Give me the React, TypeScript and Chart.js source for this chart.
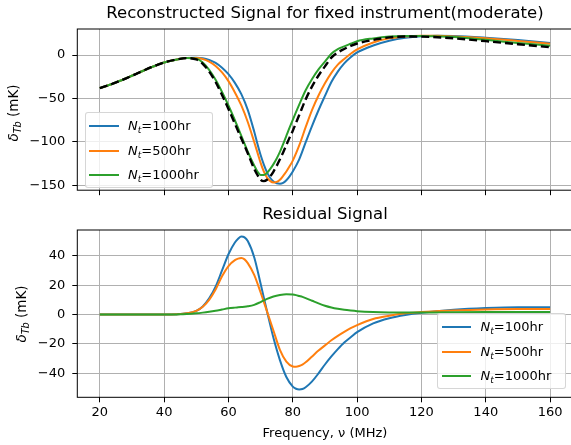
import React, { useEffect, useRef } from "react";
import { Chart, registerables } from "chart.js";

Chart.register(...registerables);

const FONT_FAMILY = "'DejaVu Sans', 'Liberation Sans', sans-serif";

const BLUE = "#1f77b4";
const ORANGE = "#ff7f0e";
const GREEN = "#2ca02c";

// Integration times shown in the legends
const SERIES_HOURS = ["100hr", "500hr", "1000hr"];
const SERIES_COLORS = [BLUE, ORANGE, GREEN];

// Frequency grid (MHz) of the reconstructed signals
const SIGNAL_FREQ = [
  20, 24, 28, 32, 36, 40, 44, 47, 50, 52, 54, 56, 58, 60, 62, 64, 66, 68, 69, 70,
  71, 72, 73, 74, 75, 76, 77, 78, 79, 80, 82, 84, 86, 88, 90, 92, 94, 96, 98, 100,
  105, 110, 115, 120, 125, 130, 140, 150, 160,
];

// Input (true) 21-cm signal, mK
const TRUE_SIGNAL = [
  -38, -33, -27, -20.5, -14, -8.5, -5, -3.5, -5, -10, -19, -31, -46, -62, -79, -96, -113, -131, -138, -143.5,
  -145, -143.5, -139.5, -134, -127.5, -120, -112, -103.5, -95, -87, -69, -51, -36, -23.5, -13, -3, 3, 7, 10.5, 13.3,
  17.5, 20.3, 21.3, 21.2, 20.5, 19.3, 16, 12.5, 9,
];

// Reconstructions, mK
const RECON_100 = [
  -38, -33, -27, -20.5, -14, -8.5, -5, -3.3, -3.2, -3.6, -5.5, -9, -14.5, -22, -32, -45, -63, -88, -102, -115,
  -126, -135, -141.5, -145.5, -147.5, -148, -147, -144, -139.5, -134, -120, -100.5, -81.5, -63.5, -47, -31, -19, -9.5, -2.5, 3,
  11, 16.5, 20, 21.7, 22.2, 22, 20, 17.3, 14,
];

const RECON_500 = [
  -38, -33, -27, -20.5, -14, -8.5, -5, -3.3, -3.3, -4.5, -7.5, -12.5, -20, -30, -43, -58, -77, -100, -112, -124,
  -134, -141, -145, -146.5, -146, -143.5, -139, -134, -128, -121.5, -104, -83, -63, -46.5, -32.5, -20.5, -11, -4.5, 1.5, 6.5,
  14.5, 19.3, 21.5, 22.3, 22.2, 21.5, 19.3, 16.3, 13,
];

const RECON_1000 = [
  -38, -33, -27, -20.5, -14, -8.5, -5, -3.5, -4.2, -8.5, -17, -28.5, -42.5, -58, -75, -93, -111, -127, -134, -138,
  -138, -135.5, -131, -125.5, -119, -111.5, -102.5, -93, -83.5, -74.5, -57, -40.5, -27.5, -16.5, -7.5, 1.5, 6.8, 10, 13, 16,
  19.2, 21.3, 22, 22, 21.5, 20.8, 17.5, 14, 10.7,
];

// Frequency grid (MHz) of the residuals
const RESID_FREQ = [
  20, 30, 40, 44, 47, 50, 52, 54, 56, 58, 60, 62, 63, 64, 65, 66, 68, 70, 72, 74, 76, 78,
  80, 81, 82, 83, 84, 86, 88, 90, 92, 94, 96, 98, 100, 105, 110, 115, 120, 130, 140, 150, 160,
];

// Residual signal, mK
const RESID_100 = [
  0, 0, 0, 0.2, 0.8, 2.5, 5.5, 11, 19, 30, 41, 49, 51.5, 53, 52.5, 50, 39, 21, 2, -16, -31, -42.5,
  -49, -50.5, -51, -50.7, -49.5, -45.5, -40, -34, -28.5, -23.5, -19, -15.5, -12, -6, -2.5, -0.3, 1.2, 3.2, 4.4, 5, 5,
];

const RESID_500 = [
  0, 0, 0, 0.2, 0.8, 2.5, 5.3, 10, 17, 26, 33, 37, 38, 38.4, 37.5, 35, 27, 15, 2, -11, -24, -32,
  -35.3, -35.5, -35, -34, -32.5, -28.5, -24.5, -21, -17.5, -14.5, -11.8, -9.3, -7.2, -3, -0.8, 0.8, 1.8, 2.8, 3.5, 3.8, 3.8,
];

const RESID_1000 = [
  0, 0, 0, 0.1, 0.3, 0.8, 1.3, 1.9, 2.6, 3.4, 4.2, 4.7, 4.9, 5.1, 5.3, 5.6, 6.6, 8.5, 10.6, 12.3, 13.3, 13.8,
  13.6, 13.2, 12.6, 12, 11.2, 9.4, 7.6, 6, 4.8, 3.9, 3.2, 2.7, 2.3, 1.7, 1.4, 1.3, 1.4, 1.6, 1.7, 1.7, 1.7,
];

const X_TICK_STEP = 20;
const TOP_Y_STEP = 50;
const BOTTOM_Y_STEP = 20;

const pair = (xs: number[], ys: number[]) => xs.map((x, i) => ({ x, y: ys[i] }));

const fmt = (v: number | string) => String(v).replace("-", "\u2212");

// Black box around the plotting area (all four spines)
const framePlugin = {
  id: "frame",
  afterDraw(chart: any) {
    const { ctx, chartArea: a } = chart;
    ctx.save();
    ctx.strokeStyle = "#000";
    ctx.lineWidth = 1;
    ctx.strokeRect(a.left, a.top, a.right - a.left, a.bottom - a.top);
    ctx.restore();
  },
};

const gridStyle = {
  color: "#b0b0b0",
  lineWidth: 1,
  tickColor: "#000",
  tickLength: 5,
  tickWidth: 1,
  drawTicks: true,
};

function lineDataset(label: string, xs: number[], ys: number[], color: string, order: number) {
  return {
    label,
    data: pair(xs, ys),
    borderColor: color,
    backgroundColor: color,
    borderWidth: 2,
    order,
  };
}

function baseOptions(title: string, size: number, titlePad: { top: number; bottom: number }) {
  return {
    animation: false,
    responsive: false,
    events: [],
    elements: {
      point: { radius: 0 },
      line: { cubicInterpolationMode: "monotone", fill: false, borderCapStyle: "butt" },
    },
    layout: { padding: { left: 0, right: 7.4, top: 0, bottom: 0 } },
    plugins: {
      legend: { display: false },
      tooltip: { enabled: false },
      title: {
        display: true,
        text: title,
        fullSize: false,
        color: "#000",
        font: { family: FONT_FAMILY, size, weight: "normal", lineHeight: 1.2 },
        padding: titlePad,
      },
    },
  };
}

function topConfig(): any {
  const opts: any = baseOptions("Reconstructed Signal for fixed instrument(moderate)", 16.5, { top: 4.1, bottom: 5.1 });
  opts.scales = {
    x: {
      type: "linear",
      min: 13,
      max: 167,
      ticks: { display: false, stepSize: X_TICK_STEP, includeBounds: false },
      grid: gridStyle,
      border: { display: false },
      afterFit: (s: any) => {
        s.height = 9;
      },
    },
    y: {
      type: "linear",
      min: -155.5,
      max: 30,
      ticks: {
        stepSize: TOP_Y_STEP,
        includeBounds: false,
        padding: 7,
        color: "#000",
        font: { family: FONT_FAMILY, size: 13 },
        callback: (v: number) => fmt(v),
      },
      grid: gridStyle,
      border: { display: false },
      afterFit: (s: any) => {
        s.width = 77.3;
      },
    },
  };
  return {
    type: "line",
    data: {
      datasets: [
        lineDataset(SERIES_HOURS[0], SIGNAL_FREQ, RECON_100, BLUE, 3),
        lineDataset(SERIES_HOURS[1], SIGNAL_FREQ, RECON_500, ORANGE, 2),
        lineDataset(SERIES_HOURS[2], SIGNAL_FREQ, RECON_1000, GREEN, 1),
        {
          label: "input",
          data: pair(SIGNAL_FREQ, TRUE_SIGNAL),
          borderColor: "#000",
          borderWidth: 2.4,
          borderDash: [8, 4],
          order: 0,
        },
      ],
    },
    options: opts,
    plugins: [framePlugin],
  };
}

function bottomConfig(): any {
  const opts: any = baseOptions("Residual Signal", 16.5, { top: 5.1, bottom: 5.1 });
  opts.scales = {
    x: {
      type: "linear",
      min: 13,
      max: 167,
      ticks: {
        stepSize: X_TICK_STEP,
        includeBounds: false,
        padding: 3,
        maxRotation: 0,
        color: "#000",
        font: { family: FONT_FAMILY, size: 13 },
        callback: (v: number) => fmt(v),
      },
      title: {
        display: true,
        text: "Frequency, \u03bd (MHz)",
        color: "#000",
        font: { family: FONT_FAMILY, size: 13 },
        padding: { top: 0, bottom: 3.2 },
      },
      grid: gridStyle,
      border: { display: false },
      afterFit: (s: any) => {
        s.height = 47.7;
      },
    },
    y: {
      type: "linear",
      min: -56.3,
      max: 57.5,
      ticks: {
        stepSize: BOTTOM_Y_STEP,
        includeBounds: false,
        padding: 7,
        color: "#000",
        font: { family: FONT_FAMILY, size: 13 },
        callback: (v: number) => fmt(v),
      },
      grid: gridStyle,
      border: { display: false },
      afterFit: (s: any) => {
        s.width = 77.3;
      },
    },
  };
  return {
    type: "line",
    data: {
      datasets: [
        lineDataset(SERIES_HOURS[0], RESID_FREQ, RESID_100, BLUE, 3),
        lineDataset(SERIES_HOURS[1], RESID_FREQ, RESID_500, ORANGE, 2),
        lineDataset(SERIES_HOURS[2], RESID_FREQ, RESID_1000, GREEN, 1),
      ],
    },
    options: opts,
    plugins: [framePlugin],
  };
}

function NtLabel({ hours }: { hours: string }) {
  return (
    <span>
      <span style={{ fontStyle: "italic" }}>N</span>
      <span style={{ fontStyle: "italic", fontSize: "0.7em", position: "relative", top: "0.3em" }}>t</span>
      <span>={hours}</span>
    </span>
  );
}

function Legend({ left, top }: { left: number; top: number }) {
  return (
    <div
      style={{
        position: "absolute",
        left,
        top,
        width: 128.5,
        height: 76.6,
        boxSizing: "border-box",
        border: "1px solid rgba(204,204,204,0.8)",
        borderRadius: 3,
        background: "rgba(255,255,255,0.8)",
      }}
    >
      {SERIES_HOURS.map((h, i) => (
        <div key={h} style={{ position: "absolute", left: 0, top: 13.8 + i * 24.3, width: "100%" }}>
          <div
            style={{ position: "absolute", left: 3.5, top: -1, width: 29.5, height: 2, background: SERIES_COLORS[i] }}
          />
          <div
            style={{
              position: "absolute",
              left: 42.5,
              top: 0,
              transform: "translateY(-50%)",
              fontSize: 13,
              lineHeight: 1,
              whiteSpace: "nowrap",
            }}
          >
            <NtLabel hours={h} />
          </div>
        </div>
      ))}
    </div>
  );
}

function YLabel({ cx, cy }: { cx: number; cy: number }) {
  return (
    <div
      style={{
        position: "absolute",
        left: cx,
        top: cy,
        transform: "translate(-50%, -50%) rotate(-90deg)",
        fontSize: 13.5,
        lineHeight: 1,
        whiteSpace: "nowrap",
      }}
    >
      <span style={{ fontStyle: "italic" }}>δ</span>
      <span style={{ fontStyle: "italic", fontSize: "0.72em", position: "relative", top: "0.3em" }}>Tb</span>
      <span> (mK)</span>
    </div>
  );
}

export default function App() {
  const topRef = useRef<HTMLCanvasElement>(null);
  const bottomRef = useRef<HTMLCanvasElement>(null);

  useEffect(() => {
    const top = new Chart(topRef.current as HTMLCanvasElement, topConfig());
    const bottom = new Chart(bottomRef.current as HTMLCanvasElement, bottomConfig());
    return () => {
      top.destroy();
      bottom.destroy();
    };
  }, []);

  return (
    <div
      style={{
        position: "fixed",
        left: 0,
        top: 0,
        width: 571,
        height: 445,
        overflow: "hidden",
        background: "#fff",
        fontFamily: FONT_FAMILY,
        color: "#000",
      }}
    >
      <canvas
        ref={topRef}
        width={580}
        height={205}
        style={{ position: "absolute", left: 0, top: 0, width: 580, height: 205 }}
      />
      <canvas
        ref={bottomRef}
        width={580}
        height={245}
        style={{ position: "absolute", left: 0, top: 200, width: 580, height: 245 }}
      />
      <YLabel cx={14} cy={112.5} />
      <YLabel cx={21.5} cy={313.7} />
      <Legend left={84.5} top={111.7} />
      <Legend left={437} top={312.7} />
    </div>
  );
}
